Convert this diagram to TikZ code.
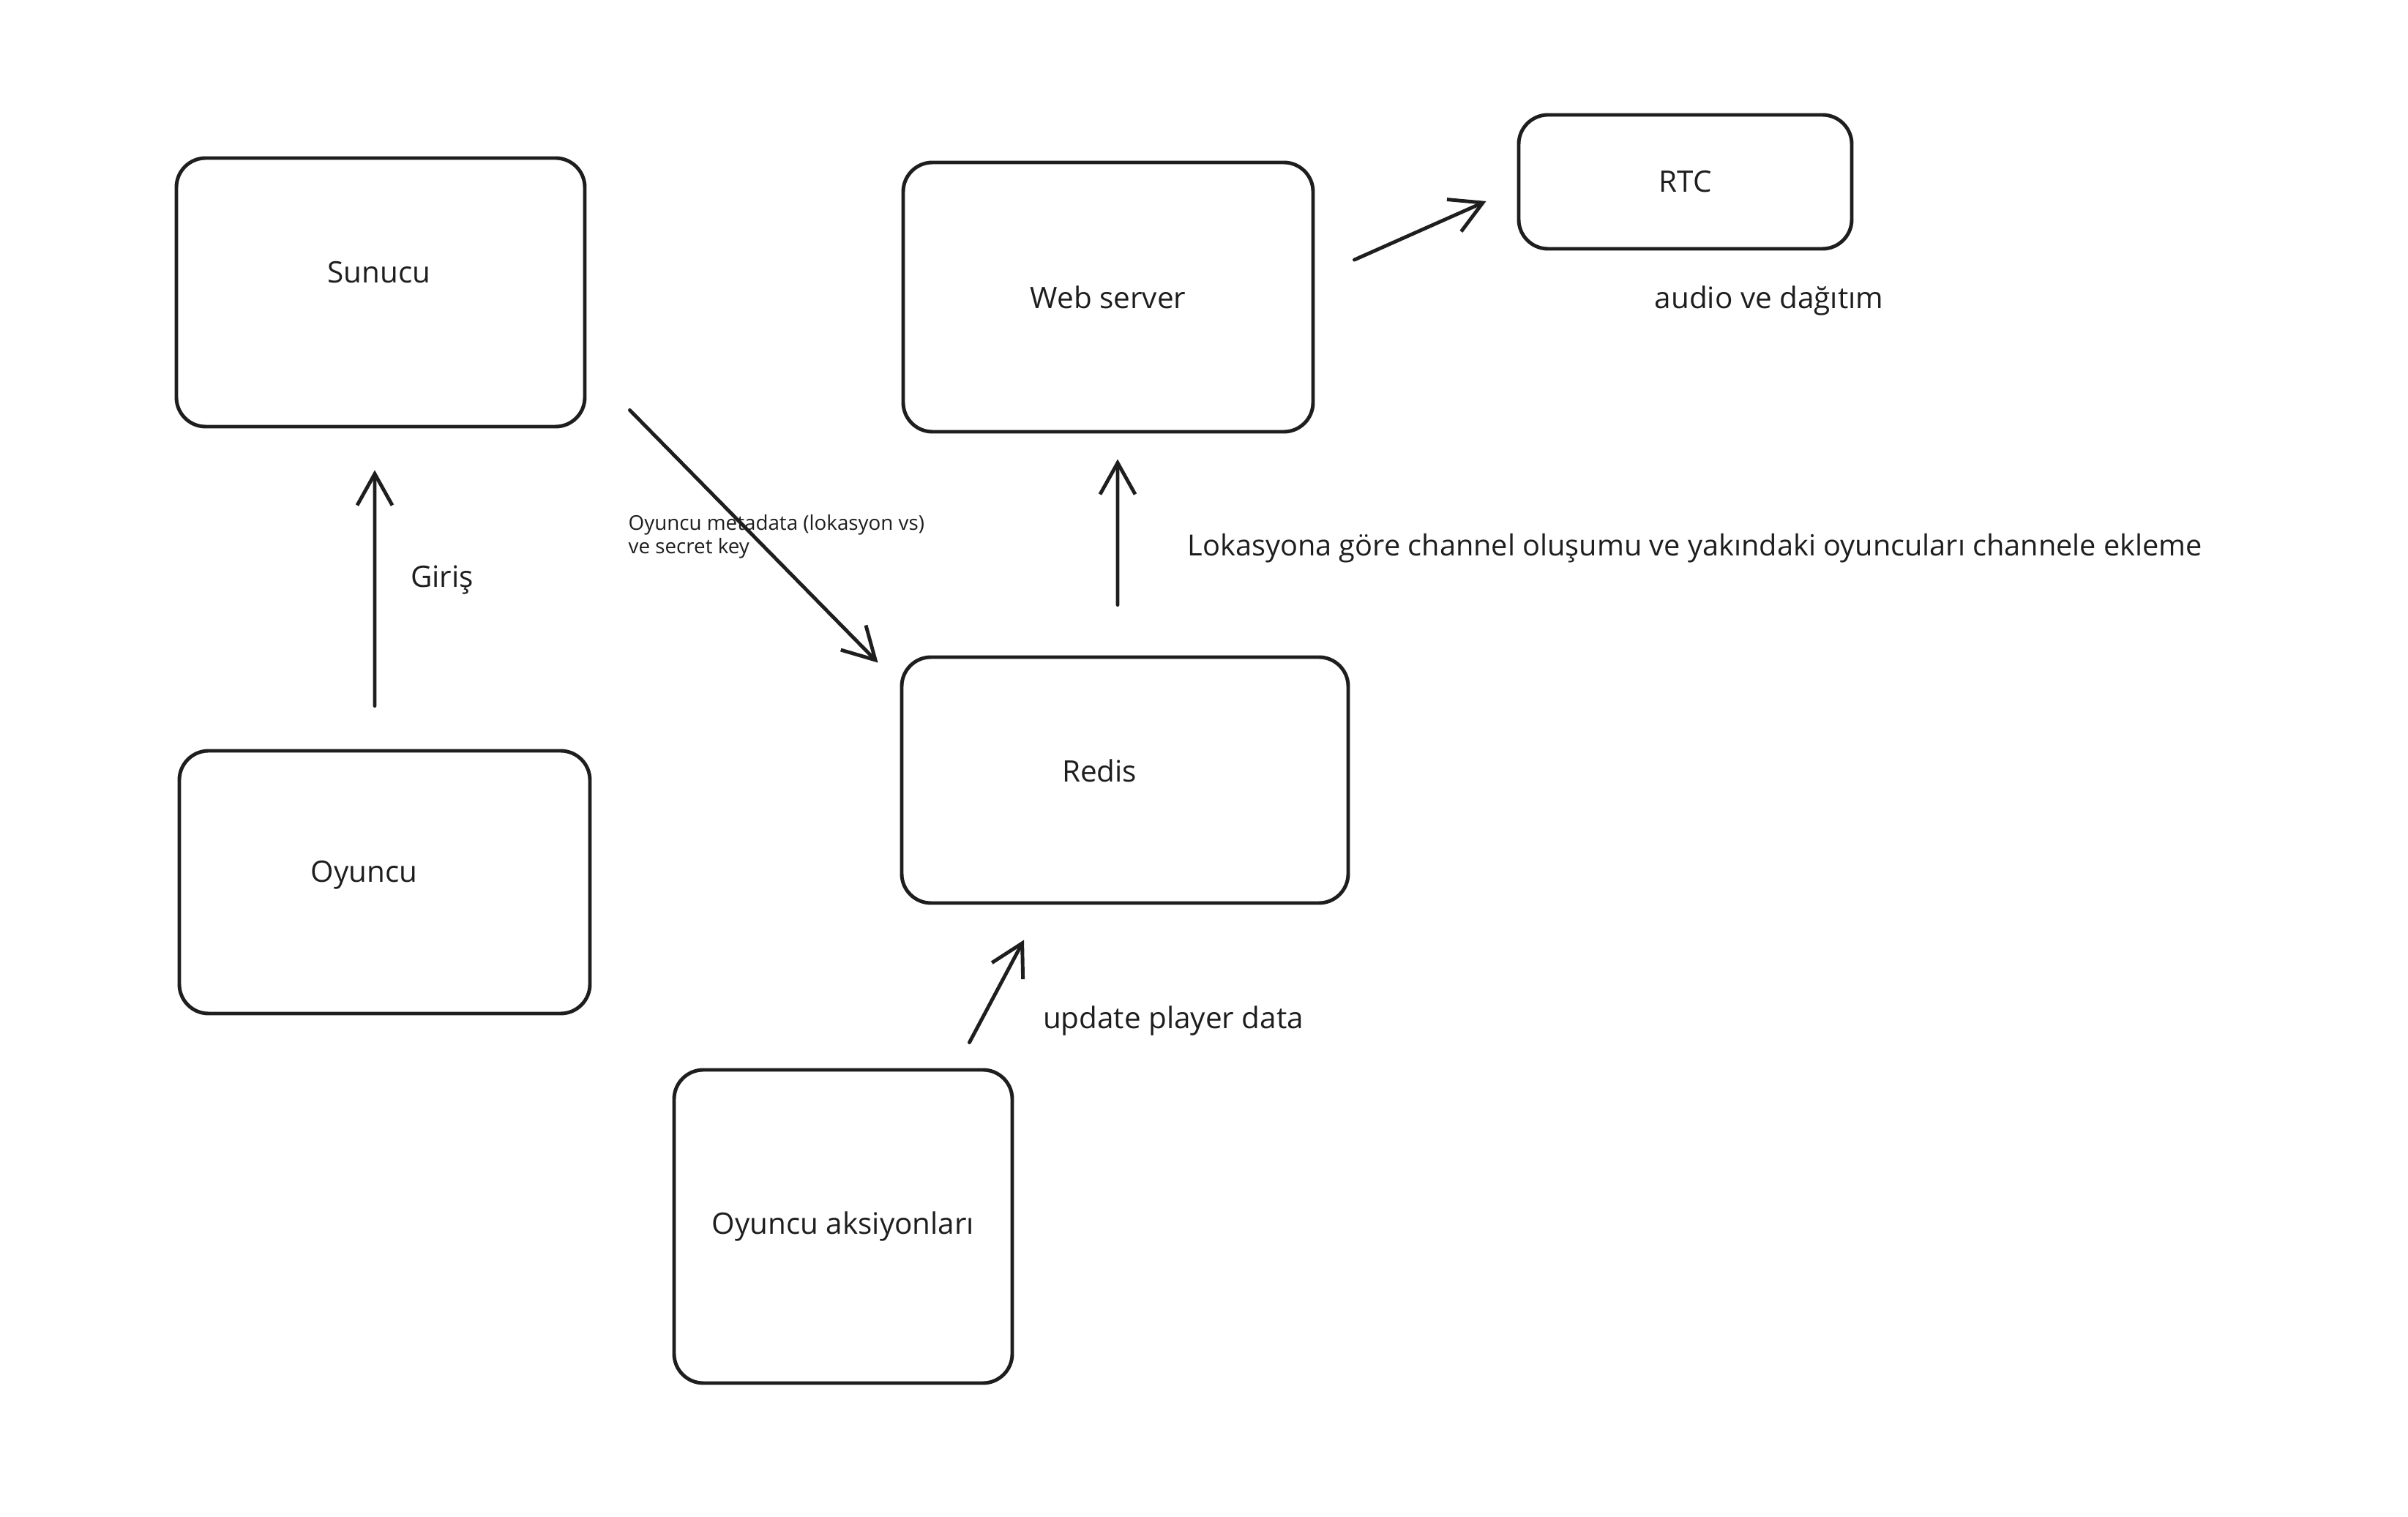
\documentclass[tikz,border=0pt]{standalone}
\usepackage{fontspec}
\setmainfont{Open Sans}
\usetikzlibrary{arrows.meta}
\definecolor{ink}{HTML}{1E1E1E}
\tikzset{
    kutu/.style={draw=ink, line width=1.4pt, rounded corners=0.4cm},
    ok/.style={draw=ink, line width=1.4pt, line cap=round, -{Straight Barb[length=4.3mm,width=4.8mm]}},
    yazi/.style={text=ink, font=\fontsize{11.5}{13.8}\selectfont, inner sep=0pt},
}

\begin{document}
\begin{tikzpicture}
            \fill[white] (0,0) rectangle (32.9,20.72);
            \useasboundingbox (0,0) rectangle (32.9,20.72);

            \node[kutu, minimum width=5.58cm, minimum height=3.67cm,
                label={[yazi, xshift=-0.02cm, yshift=0.27cm]center:Sunucu}] (sunucu) at (5.20,16.725) {};
            \node[kutu, minimum width=5.60cm, minimum height=3.68cm,
                label={[yazi]center:Web server}] (webserver) at (15.14,16.66) {};
            \node[kutu, minimum width=4.55cm, minimum height=1.83cm,
                label={[yazi]center:RTC}] (rtc) at (23.025,18.235) {};
            \node[kutu, minimum width=6.10cm, minimum height=3.36cm,
                label={[yazi, xshift=-0.35cm, yshift=0.13cm]center:Redis}] (redis) at (15.37,10.06) {};
            \node[kutu, minimum width=5.61cm, minimum height=3.59cm,
                label={[yazi, xshift=-0.28cm, yshift=0.1cm]center:Oyuncu}] (oyuncu) at (5.255,8.665) {};
            \node[kutu, minimum width=4.62cm, minimum height=4.28cm,
                label={[yazi]center:Oyuncu aksiyonları}] (aksiyon) at (11.52,3.96) {};

            \draw[ok] ([xshift=-0.135cm, yshift=0.59cm]oyuncu.north) -- ([xshift=-0.08cm, yshift=-0.57cm]sunucu.south);
            \draw[ok] ([shift={(0.59,0.25)}]sunucu.south east) -- ([shift={(-0.30,-0.10)}]redis.north west);
            \draw[ok] ([shift={(-0.10,0.69)}]redis.north) -- ([shift={(0.13,-0.35)}]webserver.south);
            \draw[ok] ([shift={(0.54,0.51)}]webserver.east) -- ([shift={(-0.42,-0.265)}]rtc.west);
            \draw[ok] ([shift={(-0.61,0.35)}]aksiyon.north east) -- ([shift={(-1.38,-0.48)}]redis.south);

            \node[yazi] (giris) at (6.04,12.79) {Giriş};
            \node[yazi, font=\fontsize{7.9}{9.2}\selectfont, anchor=west, align=left] (metadata) at (8.58,13.39)
                {Oyuncu metadata (lokasyon vs)\\ve secret key};
            \node[yazi, font=\fontsize{11.3}{13.6}\selectfont, anchor=west] (lokasyon) at (16.22,13.23)
                {Lokasyona göre channel oluşumu ve yakındaki oyuncuları channele ekleme};
            \node[yazi] (audio) at (24.17,16.61) {audio ve dağıtım};
            \node[yazi] (update) at (16.03,6.77) {update player data};

        \end{tikzpicture}
\end{document}
